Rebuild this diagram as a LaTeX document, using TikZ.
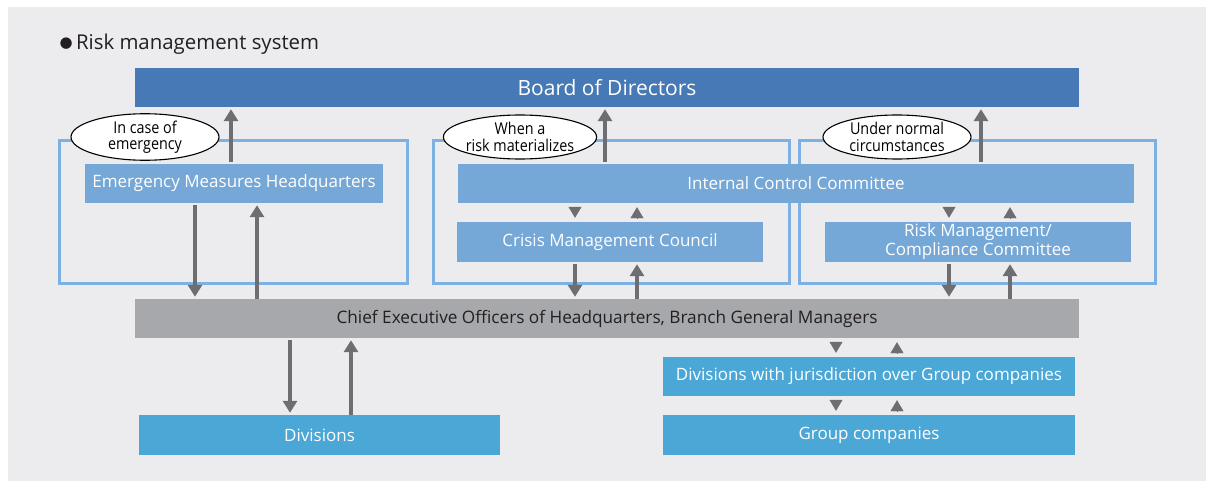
\documentclass[tikz,border=0pt]{standalone}
\usepackage{fontspec}
\setmainfont{Open Sans}
\newfontfamily\condfont[FakeStretch=0.88]{Open Sans}
\newfontfamily\symfont{DejaVu Sans}
\usetikzlibrary{positioning, arrows.meta, shapes.geometric}

\definecolor{panelgray}{HTML}{ECECEE}
\definecolor{boardblue}{HTML}{4679B5}
\definecolor{unitblue}{HTML}{75A7D7}
\definecolor{frameblue}{HTML}{7DB1E3}
\definecolor{chiefgray}{HTML}{A7A8AB}
\definecolor{divblue}{HTML}{4BA7D5}
\definecolor{arrowgray}{HTML}{6D6E71}
\definecolor{inkdark}{HTML}{231F20}

\begin{document}
\begin{tikzpicture}[
    x=1pt, y=-1pt,
    unit/.style={rectangle, inner sep=0pt, align=center, text=white, fill=unitblue, minimum height=39pt, font=\fontsize{17}{19}\selectfont},
    board/.style={unit, fill=boardblue, font=\fontsize{21}{24}\selectfont},
    chiefbar/.style={unit, fill=chiefgray, text=inkdark, font=\fontsize{17.2}{20}\selectfont},
    divbox/.style={unit, fill=divblue, minimum height=40pt},
    frame/.style={draw=frameblue, line width=3pt},
    bubble/.style={ellipse, draw=black, line width=1.1pt, fill=white, inner sep=0pt, minimum width=148pt, minimum height=44pt, align=center, text=black, font=\condfont\fontsize{16.3}{16.5}\selectfont},
    bigarrow/.style={draw=arrowgray, line width=3.5pt, -{Triangle[width=14pt, length=12pt]}, shorten >=2pt},
    smalltip/.style={draw=arrowgray, fill=arrowgray, line width=0.4pt, -{Triangle[width=13pt, length=11pt]}, shorten <=4pt, shorten >=4pt}
]
\useasboundingbox (0,0) rectangle (1206,481);
\fill[panelgray] (8,7) rectangle (1206,481);

% Title
\node[anchor=west, text=inkdark, font=\fontsize{20.4}{24}\selectfont] (title) at (56,44) {\raisebox{1.5pt}{\symfont\fontsize{15}{16}\selectfont ●}\,Risk management system};

% Frames of the three situations
\draw[frame] (59,141) rectangle (407,283);
\draw[frame] (433,141) rectangle (789,283);
\draw[frame] (799,141) rectangle (1155,283);

% Units
\node[board, minimum width=944pt] (board) at (607,87.5) {Board of Directors};
\node[unit, minimum width=298pt] (emhq) at (234,183.5) {Emergency Measures Headquarters};
\node[unit, minimum width=676pt] (icc) at (796,183.5) {Internal Control Committee};
\node[unit, minimum width=306pt, minimum height=40pt] (cmc) at (610,242) {Crisis Management Council};
\node[unit, minimum width=306pt, minimum height=40pt] (rmc) at (978,242) {Risk Management/\\Compliance Committee};
\node[chiefbar, minimum width=944pt] (chief) at (607,318.5) {Chief Executive Officers of Headquarters, Branch General Managers};
\node[divbox, minimum width=361pt] (div) at (319.5,435) {Divisions};
\node[divbox, minimum width=412pt, minimum height=39pt] (divj) at (869,376.5) {Divisions with jurisdiction over Group companies};
\node[divbox, minimum width=412pt] (grp) at (869,435) {Group companies};

% Situation labels
\node[bubble] (emerg) at (145,137) {In case of\\emergency};
\node[bubble] (mater) at (520,137) {When a\\risk materializes};
\node[bubble] (normal) at (897,137) {Under normal\\circumstances};

% Arrow columns
\coordinate (aEu) at (231,0);
\coordinate (aE1) at (195,0);
\coordinate (aE2) at (257,0);
\coordinate (aCu) at (605,0);
\coordinate (aC1) at (575,0);
\coordinate (aC2) at (637,0);
\coordinate (aRu) at (981,0);
\coordinate (aR1) at (949,0);
\coordinate (aR2) at (1010,0);
\coordinate (aD1) at (290,0);
\coordinate (aD2) at (351,0);
\coordinate (aG1) at (836,0);
\coordinate (aG2) at (897,0);

% Reports to the board
\draw[bigarrow, shorten <=2pt] (emhq.north -| aEu) -- (board.south -| aEu);
\draw[bigarrow, shorten <=2pt] (icc.north -| aCu) -- (board.south -| aCu);
\draw[bigarrow, shorten <=2pt] (icc.north -| aRu) -- (board.south -| aRu);

% Emergency route
\draw[bigarrow, shorten <=2pt] (emhq.south -| aE1) -- (chief.north -| aE1);
\draw[bigarrow] (chief.north -| aE2) -- (emhq.south -| aE2);

% Committees and council
\draw[smalltip] (icc.south -| aC1) -- (cmc.north -| aC1);
\draw[smalltip] (cmc.north -| aC2) -- (icc.south -| aC2);
\draw[smalltip] (icc.south -| aR1) -- (rmc.north -| aR1);
\draw[smalltip] (rmc.north -| aR2) -- (icc.south -| aR2);
\draw[bigarrow, shorten <=2pt] (cmc.south -| aC1) -- (chief.north -| aC1);
\draw[bigarrow] (chief.north -| aC2) -- (cmc.south -| aC2);
\draw[bigarrow, shorten <=2pt] (rmc.south -| aR1) -- (chief.north -| aR1);
\draw[bigarrow] (chief.north -| aR2) -- (rmc.south -| aR2);

% Divisions and Group companies
\draw[bigarrow, shorten <=2pt] (chief.south -| aD1) -- (div.north -| aD1);
\draw[bigarrow] (div.north -| aD2) -- (chief.south -| aD2);
\draw[smalltip] (chief.south -| aG1) -- (divj.north -| aG1);
\draw[smalltip] (divj.north -| aG2) -- (chief.south -| aG2);
\draw[smalltip] (divj.south -| aG1) -- (grp.north -| aG1);
\draw[smalltip] (grp.north -| aG2) -- (divj.south -| aG2);

\end{tikzpicture}
\end{document}
